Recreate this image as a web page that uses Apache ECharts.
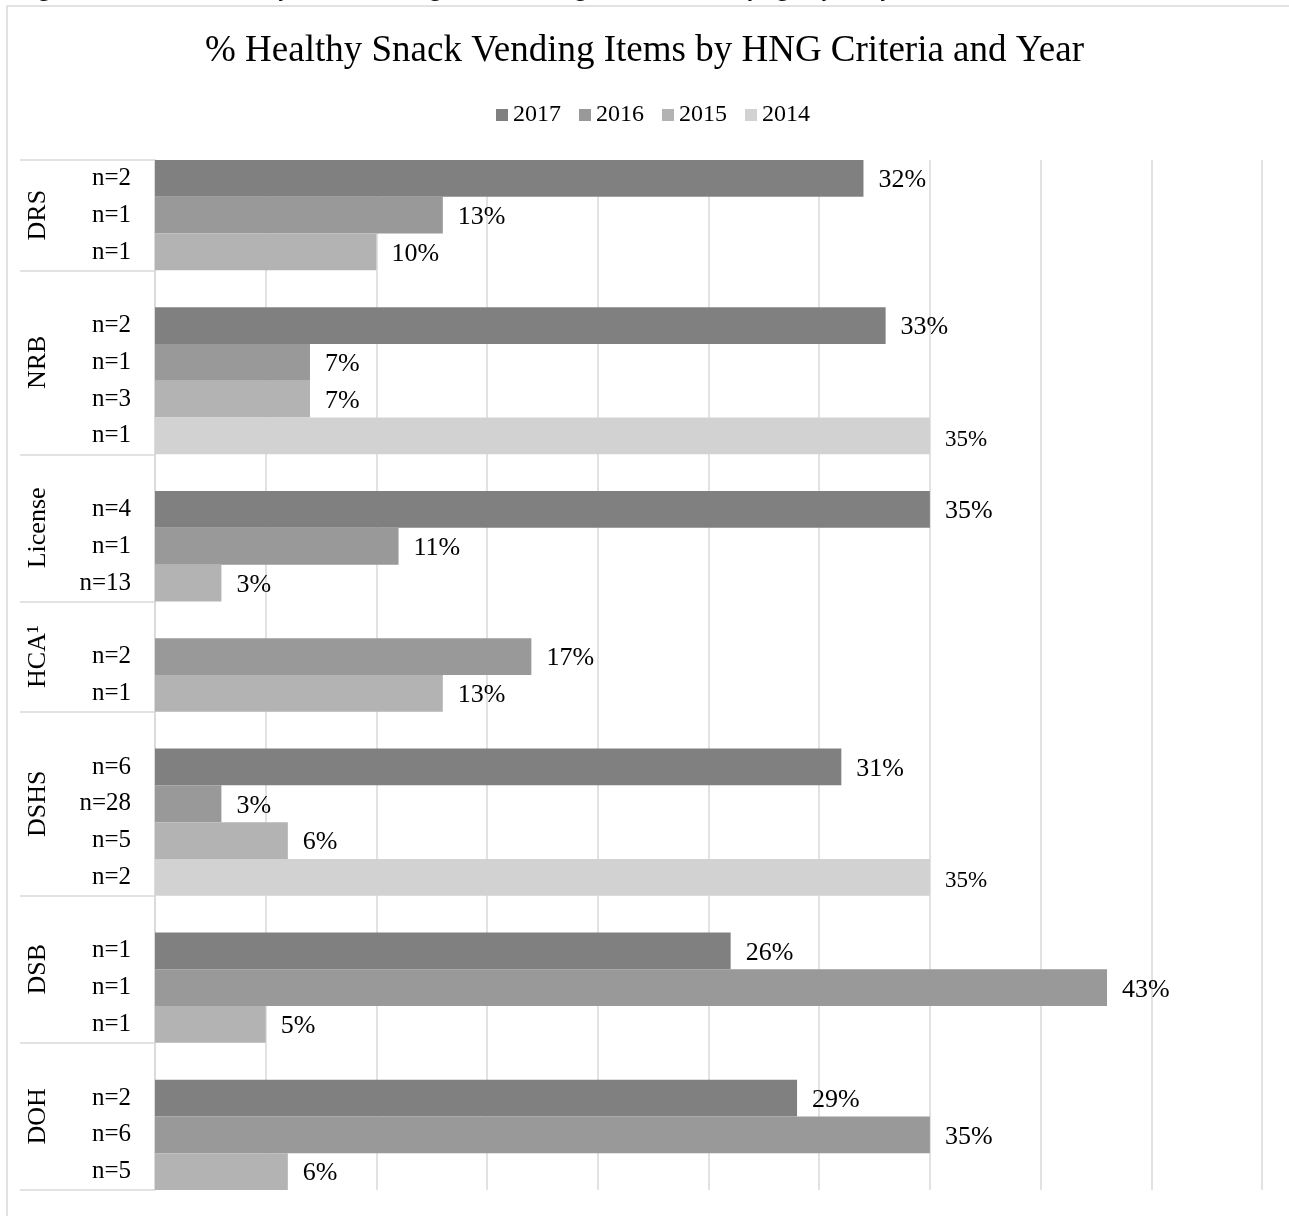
<!DOCTYPE html>
<html>
<head>
<meta charset="utf-8">
<script src="https://cdn.jsdelivr.net/npm/echarts@6/dist/echarts.min.js"></script>
<style>
  html, body { margin: 0; padding: 0; background: #ffffff; }
  #chart { width: 1289px; height: 1216px; }
</style>
</head>
<body>
<div id="chart"></div>
<script>
// Agencies, top to bottom
const agencies = ['DRS', 'NRB', 'License', 'HCA\u00B9', 'DSHS', 'DSB', 'DOH'];
const years = ['2017', '2016', '2015', '2014'];

// % healthy items per agency (null = no survey that year)
const pct2017 = [32, 33, 35, null, 31, 26, 29];
const pct2016 = [13, 7, 11, 17, 3, 43, 35];
const pct2015 = [10, 7, 3, 13, 6, 5, 6];
const pct2014 = [null, 35, null, null, 35, null, null];

// number of sites sampled per agency and year
const n2017 = [2, 2, 4, null, 6, 1, 2];
const n2016 = [1, 1, 1, 2, 28, 1, 6];
const n2015 = [1, 3, 13, 1, 5, 1, 5];
const n2014 = [null, 1, null, null, 2, null, null];

const yearColors = ['#808080', '#999999', '#b3b3b3', '#d2d2d2'];
const serif = "'Liberation Serif', 'Times New Roman', serif";

const pctByYear = [pct2017, pct2016, pct2015, pct2014];
const nByYear = [n2017, n2016, n2015, n2014];

// One row per agency/year; an empty spacer row precedes every agency but the first.
const rowLabels = [];
const rowValues = years.map(() => []);
const groupBounds = [];
agencies.forEach((agency, i) => {
  groupBounds.push(rowLabels.length);
  if (i > 0) {
    rowLabels.push('');
    rowValues.forEach(col => col.push(null));
  }
  years.forEach((y, k) => {
    if (pctByYear[k][i] == null) return;
    rowLabels.push('n=' + nByYear[k][i]);
    rowValues.forEach((col, j) => col.push(j === k ? pctByYear[k][i] : null));
  });
});
groupBounds.push(rowLabels.length);
const rowCount = rowLabels.length;
const groupCenters = agencies.map((a, i) => (groupBounds[i] + groupBounds[i + 1]) / 2);

const chart = echarts.init(document.getElementById('chart'), null, { renderer: 'canvas' });

chart.setOption({
  backgroundColor: '#ffffff',
  animation: false,
  title: {
    text: '% Healthy Snack Vending Items by HNG Criteria and Year',
    left: 'center',
    top: 28,
    textStyle: { fontFamily: serif, fontSize: 37, fontWeight: 'normal', color: '#000000' }
  },
  legend: {
    data: years,
    top: 98,
    left: 491,
    icon: 'rect',
    itemWidth: 12,
    itemHeight: 12,
    itemGap: 18,
    textStyle: { fontFamily: serif, fontSize: 24, color: '#000000' }
  },
  graphic: [
    {
      type: 'rect',
      silent: true,
      shape: { x: 7, y: 6, width: 1400, height: 1400 },
      style: { fill: null, stroke: '#d9d9d9', lineWidth: 1.5 }
    },
    {
      type: 'text',
      silent: true,
      x: 18,
      y: 2,
      style: {
        text: 'Figure 3. Percent of Healthy Snack Vending Items Meeting HNG Criteria, by agency and year',
        fontFamily: serif,
        fontSize: 24,
        fill: '#000000',
        verticalAlign: 'bottom'
      }
    }
  ],
  grid: { left: 155, right: 27, top: 160, bottom: 26, containLabel: false },
  xAxis: {
    type: 'value',
    min: 0,
    max: 50,
    interval: 5,
    axisLine: { show: false },
    axisTick: { show: false },
    axisLabel: { show: false },
    splitLine: { lineStyle: { color: '#d9d9d9', width: 1.5 } }
  },
  yAxis: [
    {
      // n= labels, one per row
      type: 'category',
      inverse: true,
      data: rowLabels.map((l, i) => 'r' + i),
      axisLine: { show: true, lineStyle: { color: '#d9d9d9', width: 1.5 } },
      axisTick: { show: false },
      axisLabel: {
        margin: 24,
        fontFamily: serif,
        fontSize: 25,
        color: '#000000',
        formatter: (v, idx) => rowLabels[idx]
      },
      splitLine: { show: false }
    },
    {
      // agency names and the separators between agencies
      type: 'value',
      inverse: true,
      min: 0,
      max: rowCount,
      position: 'left',
      axisLine: { show: false },
      splitLine: { show: false },
      axisTick: {
        show: true,
        customValues: groupBounds,
        length: 135,
        lineStyle: { color: '#d9d9d9', width: 1.5 }
      },
      axisLabel: {
        customValues: groupCenters,
        rotate: 90,
        margin: 104,
        fontFamily: serif,
        fontSize: 26,
        color: '#000000',
        formatter: v => {
          const i = groupCenters.findIndex(c => Math.abs(c - v) < 1e-6);
          return i >= 0 ? agencies[i] : '';
        }
      }
    }
  ],
  series: years.map((y, k) => ({
    name: y,
    type: 'bar',
    yAxisIndex: 0,
    data: rowValues[k],
    barGap: '-100%',
    barCategoryGap: 0,
    itemStyle: { color: yearColors[k] },
    label: {
      show: true,
      position: 'right',
      distance: 15,
      formatter: '{c}%',
      fontFamily: serif,
      fontSize: k === 3 ? 23 : 26,
      color: '#000000',
      offset: k === 3 ? [0, 4] : [0, 2]
    }
  }))
});
</script>
</body>
</html>
